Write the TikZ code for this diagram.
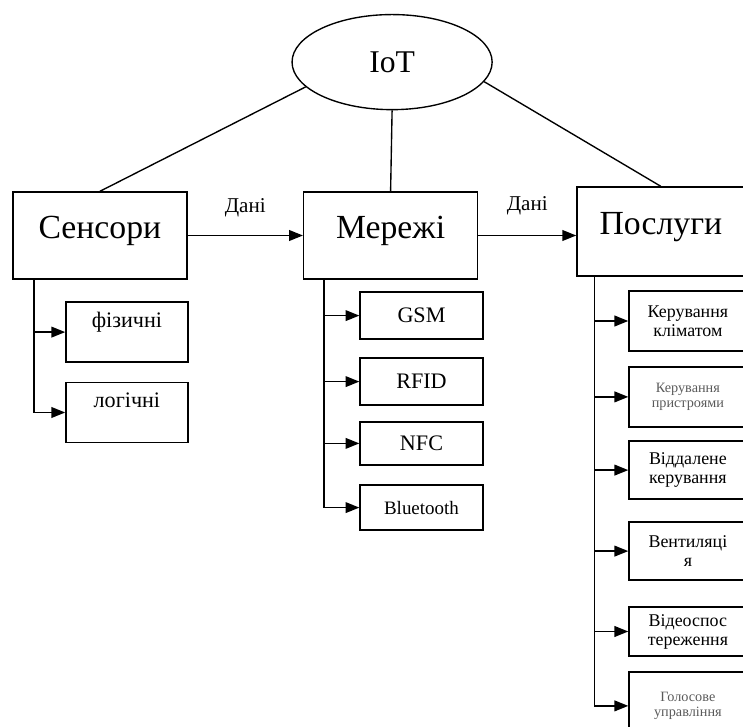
\documentclass[tikz,border=0pt]{standalone}
\usepackage{fontspec}
\setmainfont{Liberation Serif}
\usetikzlibrary{positioning, arrows.meta, shapes.geometric, calc}
\usepackage{xcolor}
\definecolor{txtgray}{RGB}{90,90,90}
\tikzset{
  EL/.style={draw,ellipse,minimum width=6.67cm,minimum height=3.17cm,inner sep=0pt,font=\fontsize{30}{34}\selectfont},
  MB/.style={draw,rectangle,minimum width=5.8cm,minimum height=2.9cm,inner sep=2pt,text height=0.75cm,text depth=0.55cm,font=\fontsize{32}{36}\selectfont},
  SB/.style={draw,rectangle,minimum width=4.07cm,minimum height=2.0cm,text height=0.55cm,text depth=0.87cm,font=\fontsize{21}{24}\selectfont},
  NB/.style={draw,rectangle,minimum width=4.1cm,minimum height=1.57cm,font=\fontsize{21}{24}\selectfont},
  KB/.style={draw,rectangle,minimum width=3.93cm,minimum height=1.93cm,align=center,inner sep=1pt,font=\fontsize{17}{18}\selectfont},
  KS/.style={KB,font=\fontsize{13.5}{15}\selectfont,text=txtgray},
  FL/.style={-{Triangle[length=0.46cm,width=0.36cm]}},
  lb/.style={font=\fontsize{20}{22}\selectfont,inner sep=1pt},
}

\begin{document}
\begin{tikzpicture}[line width=1.3pt]
\clip (0,0) rectangle (24.767,-24.233);

% Root
\node[EL](iot) at (13.07,-2.07){IoT};

% Main blocks
\node[MB](sens) at ( 3.33,-7.85){Сенсори};
\node[MB](net)  at (13.02,-7.85){Мережі};
\node[MB,minimum width=5.6cm,minimum height=2.97cm](serv) at (22.03,-7.72){Послуги};

% Root links
\draw(iot.196)--(sens.north);
\draw(iot.south)--(net.north);
\draw(iot.348)--(serv.north);

% Data flows
\draw[FL](sens.east)--node[lb,above=0.55cm]{Дані}(net.west);
\draw[FL](net.east)--node[lb,above=0.62cm]{Дані}(net.east -| serv.west);

% Sensors
\coordinate(st) at ($(sens.south west)+(0.73,0)$);
\node[SB](phys) at (4.23,-11.07){фізичні};
\node[SB](logc) at (4.23,-13.75){логічні};
\draw[FL](st)|-(logc.west);
\draw[FL](st |- phys.west)--(phys.west);

% Networks
\coordinate(nt) at ($(net.south west)+(0.7,0)$);
\node[NB](gsm)  at (14.05,-10.52){GSM};
\node[NB](rfid) at (14.05,-12.72){RFID};
\node[NB,minimum height=1.43cm](nfc) at (14.05,-14.78){NFC};
\node[NB,minimum height=1.5cm,font=\fontsize{18}{20}\selectfont](bt) at (14.05,-16.92){Bluetooth};
\draw[FL](nt)|-(bt.west);
\draw[FL](nt |- gsm.west)--(gsm.west);
\draw[FL](nt |- rfid.west)--(rfid.west);
\draw[FL](nt |- nfc.west)--(nfc.west);

% Services
\coordinate(kt) at ($(serv.south west)+(0.6,0)$);
\node[KB,minimum height=2.0cm](clim)  at (22.93,-10.7){Керування\\кліматом};
\node[KS,minimum height=2.0cm](dev)   at (22.93,-13.23){Керування\\пристроями};
\node[KB](remote) at (22.93,-15.67){Віддалене\\керування};
\node[KB](vent)   at (22.93,-18.37){Вентиляці\\я};
\node[KB,minimum height=1.63cm](video) at (22.93,-21.05){Відеоспос\\тереження};
\node[KS,minimum height=2.27cm](voice) at (22.93,-23.53){Голосове\\управління};
\draw[FL](kt)|-(voice.west);
\draw[FL](kt |- clim.west)--(clim.west);
\draw[FL](kt |- dev.west)--(dev.west);
\draw[FL](kt |- remote.west)--(remote.west);
\draw[FL](kt |- vent.west)--(vent.west);
\draw[FL](kt |- video.west)--(video.west);

\end{tikzpicture}
\end{document}
